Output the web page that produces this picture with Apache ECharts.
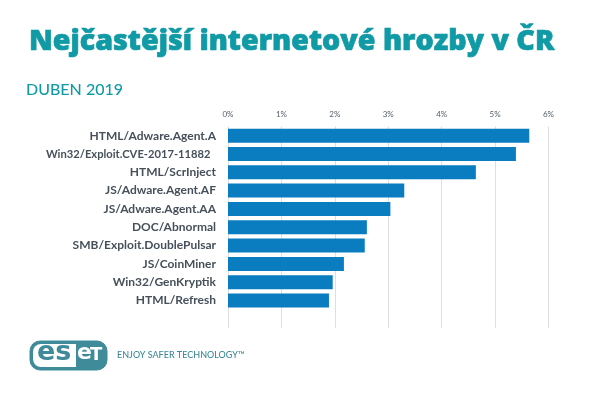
<!DOCTYPE html>
<html><head><meta charset="utf-8">
<style>html,body{margin:0;padding:0;background:#fff}#c{width:600px;height:403px}</style>
<script src="https://cdn.jsdelivr.net/npm/echarts@6/dist/echarts.min.js"></script>
</head><body><div id="c"></div>
<script>
const categories = ["HTML/Adware.Agent.A","Win32/Exploit.CVE-2017-11882  ","HTML/ScrInject","JS/Adware.Agent.AF","JS/Adware.Agent.AA","DOC/Abnormal","SMB/Exploit.DoublePulsar","JS/CoinMiner","Win32/GenKryptik","HTML/Refresh",""];
const values = [5.64,5.39,4.64,3.30,3.04,2.60,2.56,2.17,1.96,1.89,null];
const titleText = "Nejčastější internetové hrozby v ČR";
const subtitleText = "DUBEN 2019";
const tagline = "ENJOY SAFER TECHNOLOGY™";
const font = "Lato";
const teal = "#0f9aa5";
const logoTeal = "#3f8b9a";
const labelColor = '#46505a';
const chart = echarts.init(document.getElementById('c'), null, {renderer:'canvas'});
chart.setOption({
  animation:false,
  backgroundColor:'#fff',
  title:[
    {text:titleText,left:29,top:27,padding:0,textStyle:{fontFamily:'Open Sans',fontWeight:800,fontSize:28.6,color:teal,textBorderColor:teal,textBorderWidth:0.7}},
    {text:subtitleText,left:26,top:82,padding:0,textStyle:{fontFamily:font,fontWeight:500,fontSize:16,color:teal}}
  ],
  grid:{left:228,right:51.5,top:126.5,height:201.5,containLabel:false},
  xAxis:{type:'value',position:'top',min:0,max:6,interval:1,
    axisLine:{show:false},axisTick:{show:false},
    axisLabel:{formatter:'{value}%',fontFamily:font,fontSize:8,color:'#55606a',margin:8},
    splitLine:{show:true,lineStyle:{color:'#dfdfdf',width:1}}},
  yAxis:{type:'category',inverse:true,data:categories,
    axisLine:{show:false},axisTick:{show:false},
    axisLabel:{fontFamily:font,fontWeight:700,fontSize:12,color:labelColor,margin:12,
      formatter:v=>v.startsWith('Win32/Exploit')?'{n|'+v+'}':v,
      rich:{n:{fontFamily:font,fontWeight:700,fontSize:11.2,color:labelColor}}}},
  series:[{type:'bar',data:values,barWidth:14,itemStyle:{color:'#0a7cc0'}}],
  graphic:[
    {type:'rect',shape:{x:30,y:341,width:77,height:29,r:10},style:{fill:logoTeal,stroke:logoTeal,lineWidth:1}},
    {type:'rect',shape:{x:33,y:344,width:43,height:23,r:[8,0,0,8]},style:{fill:'#fff'}},
    {type:'text',x:37,y:339,style:{text:'es',fontFamily:'DejaVu Sans',fontWeight:700,fontSize:27,fill:logoTeal}},
    {type:'text',x:77,y:342,style:{text:'e',fontFamily:'DejaVu Sans',fontWeight:700,fontSize:22,fill:'#fff'}},
    {type:'text',x:90,y:346,style:{text:'T',fontFamily:'DejaVu Sans',fontWeight:700,fontSize:18,fill:'#fff'}},
    {type:'text',x:117,y:351,style:{text:tagline,fontFamily:font,fontWeight:500,fontSize:9,fill:logoTeal}}
  ]
});
</script></body></html>
